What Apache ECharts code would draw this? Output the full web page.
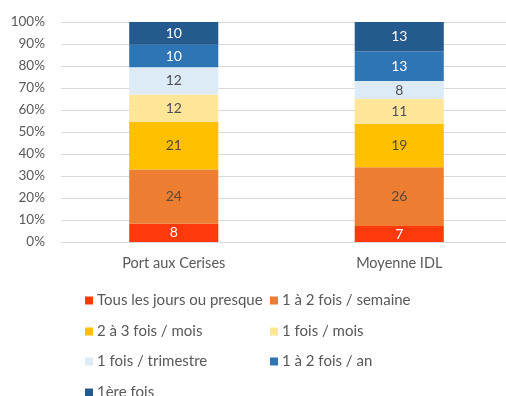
<!DOCTYPE html>
<html>
<head>
<meta charset="utf-8">
<script src="https://cdn.jsdelivr.net/npm/echarts@6/dist/echarts.min.js"></script>
<style>
  html, body { margin: 0; padding: 0; background: #fff; }
  #chart { width: 506px; height: 396px; }
</style>
</head>
<body>
<div id="chart"></div>
<script>
// Categories and frequency answers (counts per category)
const categories = ['Port aux Cerises', 'Moyenne IDL'];
const seriesNames = [
  'Tous les jours ou presque',
  '1 à 2 fois / semaine',
  '2 à 3 fois / mois',
  '1 fois / mois',
  '1 fois / trimestre',
  '1 à 2 fois / an',
  '1ère fois'
];
const tousLesJours = [8, 7];
const semaine = [24, 26];
const mois23 = [21, 19];
const mois1 = [12, 11];
const trimestre = [12, 8];
const an = [10, 13];
const premiere = [10, 13];
const yTicks = [0, 10, 20, 30, 40, 50, 60, 70, 80, 90, 100];

const values = [tousLesJours, semaine, mois23, mois1, trimestre, an, premiere];
const colors = ['#FF3A0A', '#ED7D31', '#FFC000', '#FFE699', '#DDEBF7', '#2E75B6', '#245A8E'];
const labelColors = ['#ffffff', '#5a4a3a', '#5a4a30', '#505050', '#505050', '#ffffff', '#ffffff'];

// Totals per category, used to stack each bar to 100 %
const totals = categories.map((_, i) => values.reduce((s, arr) => s + arr[i], 0));

const FONT = 'Lato, "Open Sans", sans-serif';

const series = seriesNames.map((name, k) => ({
  name: name,
  type: 'bar',
  stack: 'total',
  barWidth: '39.5%',
  itemStyle: { color: colors[k] },
  label: {
    show: true,
    position: 'inside',
    color: labelColors[k],
    fontFamily: FONT,
    fontSize: 14,
    formatter: p => values[k][p.dataIndex]
  },
  data: values[k].map((v, i) => v / totals[i] * 100)
}));

// Legend: two columns, one component per entry
const legendRowsTop = [293, 324, 354, 385];
const legendColsLeft = [85, 270];
const legends = seriesNames.map((name, k) => ({
  data: [name],
  left: legendColsLeft[k % 2],
  top: legendRowsTop[Math.floor(k / 2)],
  padding: 0,
  itemWidth: 8, itemHeight: 8,
  icon: 'rect',
  selectedMode: false,
  textStyle: { color: '#595959', fontSize: 15, fontFamily: FONT, padding: [0, 0, 0, -1] }
}));

const chart = echarts.init(document.getElementById('chart'), null, { renderer: 'canvas' });
chart.setOption({
  animation: false,
  textStyle: { fontFamily: FONT },
  grid: { left: 61, width: 451, top: 22, bottom: 154, outerBoundsMode: 'none' },
  xAxis: {
    type: 'category',
    data: categories,
    axisLine: { show: true, lineStyle: { color: '#D9D9D9' } },
    axisTick: { show: false },
    axisLabel: { color: '#595959', fontSize: 14.5, fontFamily: FONT, margin: 14 }
  },
  yAxis: {
    type: 'value',
    min: yTicks[0],
    max: yTicks[yTicks.length - 1],
    interval: yTicks[1] - yTicks[0],
    axisLine: { show: false },
    axisTick: { show: false },
    splitLine: { lineStyle: { color: '#D9D9D9' } },
    axisLabel: { color: '#595959', fontSize: 13.5, fontFamily: FONT, margin: 16, formatter: v => v + '%' }
  },
  legend: legends,
  series: series
});
</script>
</body>
</html>
